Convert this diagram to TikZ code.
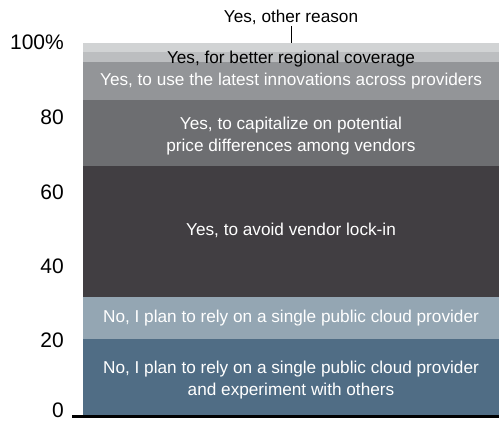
\documentclass[tikz,border=0pt]{standalone}
\usepackage{fontspec}
\setmainfont{Liberation Sans}
\usetikzlibrary{positioning}
\definecolor{nosingle}{HTML}{506D85}
\definecolor{noplan}{HTML}{94A6B3}
\definecolor{lockin}{HTML}{413E42}
\definecolor{price}{HTML}{6D6E71}
\definecolor{innov}{HTML}{939598}
\definecolor{regional}{HTML}{BCBEC0}
\definecolor{otherr}{HTML}{D1D3D4}
\tikzstyle{seglabel} = [font=\fontsize{17.2}{22}\selectfont, text=white, align=center, inner sep=0pt]
\tikzstyle{ticklabel} = [anchor=east, font=\fontsize{21}{24}\selectfont, inner sep=0pt]

\begin{document}
\begin{tikzpicture}[x=1pt, y=3.72pt]
\useasboundingbox (-83,-1.613) rectangle (420,111.56);
% Stacked bar
\fill[nosingle] (0,0) rectangle (416,20.4);
\fill[noplan] (0,20.4) rectangle (416,31.7);
\fill[lockin] (0,31.7) rectangle (416,66.9);
\fill[price] (0,66.9) rectangle (416,84.7);
\fill[innov] (0,84.7) rectangle (416,94.9);
\fill[regional] (0,94.9) rectangle (416,97.6);
\fill[otherr] (0,97.6) rectangle (416,100);

% Axis
\draw[line width=3pt] (-11,-0.4) -- (416,-0.4);
\foreach \v in {20,40,60,80} {
    \node[ticklabel] (tick\v) at (-19,\v) {\v};
}
\node[ticklabel] (tick0) at (-19,1.4) {0};
\node[ticklabel] (tick100) at (-19,100.3) {100\%};

% Labels
\node[seglabel] (nosinglelbl) at (208,9.4) {No, I plan to rely on a single public cloud provider\\and experiment with others};
\node[seglabel] (noplanlbl) at (208,26.1) {No, I plan to rely on a single public cloud provider};
\node[seglabel] (lockinlbl) at (208,49.7) {Yes, to avoid vendor lock-in};
\node[seglabel] (pricelbl) at (208,75.1) {Yes, to capitalize on potential\\price differences among vendors};
\node[seglabel] (innovlbl) at (208,89.8) {Yes, to use the latest innovations across providers};
\node[seglabel, text=black] (regionallbl) at (208,95.8) {Yes, for better regional coverage};
\node[seglabel, text=black] (otherlbl) at (208,107) {Yes, other reason};
\coordinate (bartop) at (208,100);
\draw[thin] ([yshift=-2pt]otherlbl.south) -- (bartop);
\end{tikzpicture}
\end{document}
